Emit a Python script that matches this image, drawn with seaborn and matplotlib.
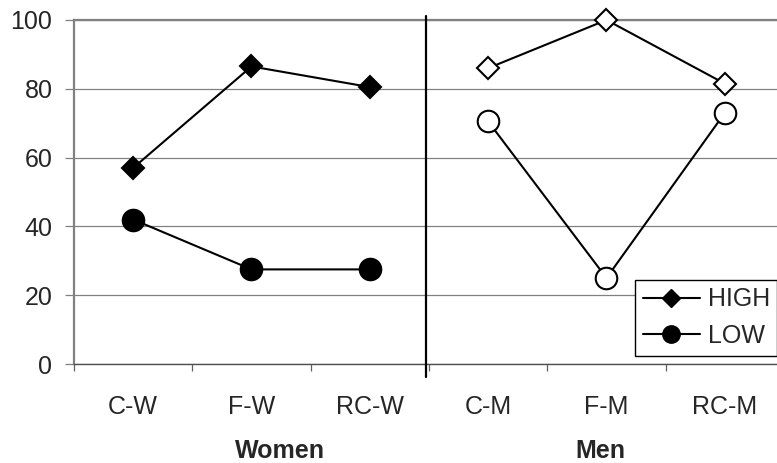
import numpy as np
import pandas as pd
import matplotlib
matplotlib.use("Agg")
import matplotlib.pyplot as plt
import matplotlib.transforms as mtransforms
from matplotlib.lines import Line2D
import seaborn as sns

# Scores per condition, split by participant group
categories = ["C-W", "F-W", "RC-W", "C-M", "F-M", "RC-M"]
groups = ["Women", "Women", "Women", "Men", "Men", "Men"]
high = [57, 86.5, 80.5, 86, 100, 81.5]
low = [42, 27.5, 27.5, 70.5, 25, 73]
group_names = ["Women", "Men"]
yticks = [0, 20, 40, 60, 80, 100]

sns.set_style("white")
plt.rcParams["font.family"] = ["Liberation Sans", "DejaVu Sans"]

df = pd.DataFrame({"category": categories, "group": groups,
                   "HIGH": high, "LOW": low})
df["pos"] = np.arange(len(df))

fig = plt.figure(figsize=(7.77, 4.63), dpi=100)
ax = fig.add_axes([74 / 777, 99 / 463, 710 / 777, 344 / 463])

faces = {"Women": "black", "Men": "white"}
for grp in group_names:
    sub = df[df["group"] == grp]
    sns.lineplot(data=sub, x="pos", y="HIGH", ax=ax, legend=False,
                 color="black", lw=1.5, marker="D", markersize=11.5,
                 markerfacecolor=faces[grp], markeredgecolor="black",
                 markeredgewidth=1.5, zorder=3, clip_on=False)
    sns.lineplot(data=sub, x="pos", y="LOW", ax=ax, legend=False,
                 color="black", lw=1.5, marker="o", markersize=15.5,
                 markerfacecolor=faces[grp], markeredgecolor="black",
                 markeredgewidth=1.5, zorder=3, clip_on=False)

ax.set_xlim(-0.5, 5.5)
ax.set_ylim(0, 100)
ax.set_xlabel("")
ax.set_ylabel("")

# y axis and horizontal grid
ax.set_yticks(yticks)
ax.yaxis.grid(True, color="#808080", lw=0.9)
ax.set_axisbelow(True)
ax.tick_params(axis="y", left=True, length=6.5, width=0.9, color="#808080",
               labelsize=18, pad=9)

# x axis: labels at category centres, tick marks at boundaries
ax.set_xticks(df["pos"])
ax.set_xticklabels(categories)
ax.set_xticks(np.arange(-0.5, 5.6, 1.0), minor=True)
ax.tick_params(axis="x", which="major", bottom=True, length=0, labelsize=18,
               pad=22)
ax.tick_params(axis="x", which="minor", bottom=True, length=5, width=0.9,
               color="#606060")

ax.spines["right"].set_visible(False)
ax.spines["top"].set_color("#808080")
ax.spines["top"].set_linewidth(1.6)
ax.spines["left"].set_color("#808080")
ax.spines["left"].set_linewidth(1.6)
ax.spines["bottom"].set_color("#505050")
ax.spines["bottom"].set_linewidth(1.0)

# divider between the two groups
ax.axvline(2.475, ymin=-0.038, ymax=1.012, color="black", lw=1.6,
           clip_on=False, zorder=4)

# group titles under the tick labels
trans = mtransforms.blended_transform_factory(ax.transData, ax.transAxes)
for name, xc in zip(group_names, [1.24, 3.945]):
    ax.text(xc, -0.273, name, transform=trans, ha="center", va="baseline",
            fontsize=18, fontweight="bold")

handles = [
    Line2D([], [], color="black", lw=1.5, marker="D", markersize=9,
           markerfacecolor="black", markeredgecolor="black"),
    Line2D([], [], color="black", lw=1.5, marker="o", markersize=12.5,
           markerfacecolor="black", markeredgecolor="black"),
]
leg = ax.legend(handles, ["HIGH", "LOW"], loc="upper left",
                bbox_to_anchor=(635 / 777, 1 - 280 / 463),
                bbox_transform=fig.transFigure, frameon=True, fancybox=False,
                edgecolor="black", framealpha=1, borderpad=0.3,
                handlelength=2.3, handletextpad=0.3, labelspacing=0.5,
                fontsize=18, borderaxespad=0)
leg.get_frame().set_linewidth(1.0)
leg.set_zorder(5)

fig.savefig("out.png", dpi=100)
